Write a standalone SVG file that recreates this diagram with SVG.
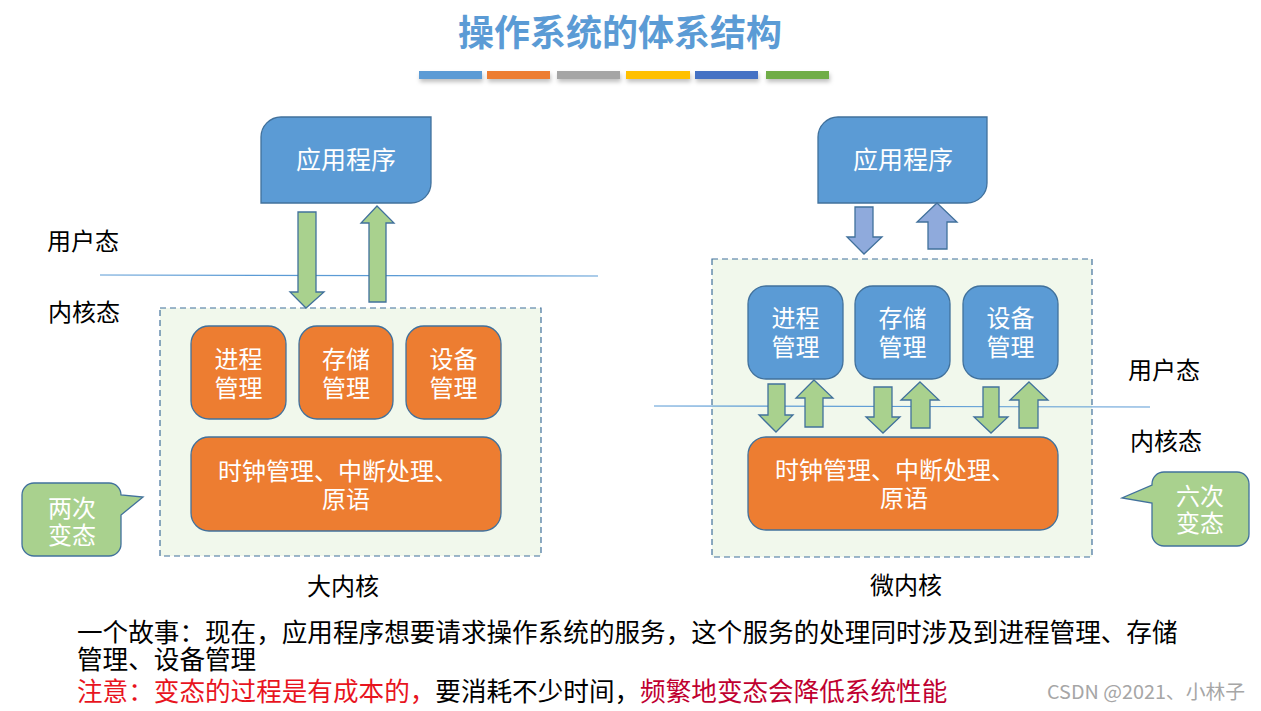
<svg xmlns="http://www.w3.org/2000/svg" width="1261" height="711" viewBox="0 0 1261 711">
<defs>
<style>
text{font-family:"Noto Sans CJK SC","Noto Sans",sans-serif;}
.w{fill:#ffffff;font-size:24px;text-anchor:middle;dominant-baseline:central;}
.k{fill:#000000;font-size:24px;dominant-baseline:central;}
.b{fill:#000000;font-size:25.6px;dominant-baseline:central;}
.blue{fill:#5b9bd5;stroke:#41719c;stroke-width:1.3;}
.org{fill:#ed7d31;stroke:#41719c;stroke-width:1.3;}
.grn{fill:#a9d18e;stroke:#41719c;stroke-width:1.3;}
.arb{fill:#8faadc;stroke:#41719c;stroke-width:1.3;}
.dash{fill:#f1f8ec;stroke:#41719c;stroke-width:1.2;stroke-dasharray:6 4;}
.hl{stroke:#5b9bd5;stroke-width:1.2;fill:none;}
</style>
<filter id="sh" x="-10%" y="-50%" width="120%" height="250%">
<feDropShadow dx="1" dy="3" stdDeviation="2" flood-color="#000" flood-opacity="0.25"/>
</filter>
</defs>
<rect width="1261" height="711" fill="#ffffff"/>

<g id="title">
<text x="620" y="30" style="font-size:36px;font-weight:bold;fill:#5b9bd5;text-anchor:middle;dominant-baseline:central;">操作系统的体系结构</text>
<g filter="url(#sh)">
<rect x="419" y="71" width="63" height="8" fill="#5b9bd5"/>
<rect x="487" y="71" width="63" height="8" fill="#ed7d31"/>
<rect x="557" y="71" width="63" height="8" fill="#a5a5a5"/>
<rect x="626" y="71" width="64" height="8" fill="#ffc000"/>
<rect x="695" y="71" width="63" height="8" fill="#4472c4"/>
<rect x="766" y="71" width="63" height="8" fill="#70ad47"/>
</g>
</g>

<g id="left-kernel-box">
<rect class="dash" x="160" y="308" width="381" height="248"/>
</g>
<g id="right-kernel-box">
<rect class="dash" x="712" y="259" width="380" height="298"/>
</g>

<g id="mode-lines">
<line class="hl" x1="100" y1="275" x2="598" y2="276"/>
<line class="hl" x1="654" y1="406" x2="1150" y2="407"/>
</g>

<g id="labels">
<text class="k" x="47" y="239">用户态</text>
<text class="k" x="48" y="310">内核态</text>
<text class="k" x="1128" y="368">用户态</text>
<text class="k" x="1130" y="439">内核态</text>
<text class="k" x="343" y="584" style="text-anchor:middle">大内核</text>
<text class="k" x="906" y="583" style="text-anchor:middle">微内核</text>
</g>

<g id="left-app">
<path class="blue" d="M281,117 H431 V183 A20,20 0 0 1 411,203 H261 V137 A20,20 0 0 1 281,117 Z"/>
<text class="w" x="346" y="158" style="font-size:25px">应用程序</text>
</g>
<g id="left-process">
<rect class="org" x="191" y="326" width="95" height="93" rx="18"/>
<text class="w" x="238.5" y="357">进程<tspan x="238.5" dy="29">管理</tspan></text>
</g>
<g id="left-memory">
<rect class="org" x="299" y="326" width="94" height="93" rx="18"/>
<text class="w" x="346" y="357">存储<tspan x="346" dy="29">管理</tspan></text>
</g>
<g id="left-device">
<rect class="org" x="406" y="326" width="95" height="93" rx="18"/>
<text class="w" x="453.5" y="357">设备<tspan x="453.5" dy="29">管理</tspan></text>
</g>
<g id="left-core">
<rect class="org" x="191" y="437" width="310" height="94" rx="18"/>
<text class="w" x="218" y="469" style="text-anchor:start">时钟管理、中断处理、<tspan x="322" dy="28">原语</tspan></text>
</g>
<g id="left-callout">
<path class="grn" d="M34,483 H109 A12,12 0 0 1 121,495 L143,497 L121,515 V544 A12,12 0 0 1 109,556 H34 A12,12 0 0 1 22,544 V495 A12,12 0 0 1 34,483 Z"/>
<text class="w" x="72" y="506">两次<tspan x="72" dy="27">变态</tspan></text>
</g>

<g id="right-app">
<path class="blue" d="M838,117 H987 V183 A20,20 0 0 1 967,203 H818 V137 A20,20 0 0 1 838,117 Z"/>
<text class="w" x="903" y="158" style="font-size:25px">应用程序</text>
</g>
<g id="right-process">
<rect class="blue" x="748" y="286" width="95" height="93" rx="18"/>
<text class="w" x="795.5" y="316">进程<tspan x="795.5" dy="29">管理</tspan></text>
</g>
<g id="right-memory">
<rect class="blue" x="855" y="286" width="95" height="93" rx="18"/>
<text class="w" x="902.5" y="316">存储<tspan x="902.5" dy="29">管理</tspan></text>
</g>
<g id="right-device">
<rect class="blue" x="963" y="286" width="95" height="93" rx="18"/>
<text class="w" x="1010.5" y="316">设备<tspan x="1010.5" dy="29">管理</tspan></text>
</g>
<g id="right-core">
<rect class="org" x="748" y="437" width="310" height="93" rx="18"/>
<text class="w" x="775" y="468" style="text-anchor:start">时钟管理、中断处理、<tspan x="880" dy="28">原语</tspan></text>
</g>
<g id="right-callout">
<path class="grn" d="M1164,472 H1237 A12,12 0 0 1 1249,484 V534 A12,12 0 0 1 1237,546 H1164 A12,12 0 0 1 1152,534 V503 L1122,498 L1152,485 V484 A12,12 0 0 1 1164,472 Z"/>
<text class="w" x="1200" y="494">六次<tspan x="1200" dy="27">变态</tspan></text>
</g>

<g id="connectors">
<polygon class="grn" points="298,212 316,212 316,292 324,292 306,308 290,292 298,292"/>
<polygon class="grn" points="377,206 394,223 386,223 386,302 369,302 369,223 361,223"/>
<polygon class="arb" points="855,207 873,207 873,237 882,237 864,254 847,237 855,237"/>
<polygon class="arb" points="937,203 957,222 947,222 947,249 928,249 928,222 917,222"/>
<polygon class="grn" points="768,384 785,384 785,415 793,415 776,432 759,415 768,415"/>
<polygon class="grn" points="814,380 833,398 823,398 823,427 805,427 805,398 796,398"/>
<polygon class="grn" points="874,387 892,387 892,417 900,417 883,433 866,417 874,417"/>
<polygon class="grn" points="920,382 939,400 930,400 930,428 911,428 911,400 901,400"/>
<polygon class="grn" points="983,387 999,387 999,417 1008,417 991,433 974,417 983,417"/>
<polygon class="grn" points="1029,382 1048,400 1038,400 1038,428 1019,428 1019,400 1010,400"/>
</g>

<g id="notes">
<text class="b" x="77" y="630">一个故事：现在，应用程序想要请求操作系统的服务，这个服务的处理同时涉及到进程管理、存储<tspan x="77" dy="27">管理、设备管理</tspan><tspan x="77" dy="32" fill="#e8141e">注意：变态的过程是有成本的，</tspan><tspan fill="#000000">要消耗不少时间，</tspan><tspan fill="#c00030">频繁地变态会降低系统性能</tspan></text>
<text x="1047" y="690" textLength="198" lengthAdjust="spacingAndGlyphs" style="font-size:19px;fill:#a6a6a6;dominant-baseline:central;">CSDN @2021、小林子</text>
</g>
</svg>
